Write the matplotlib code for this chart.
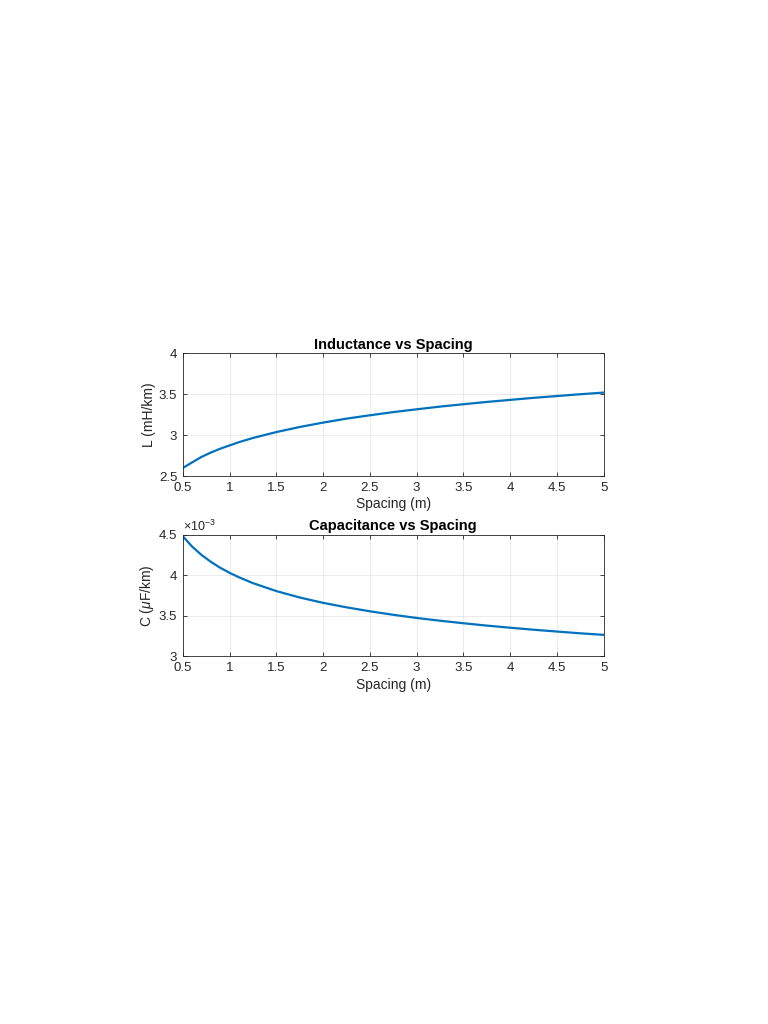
import matplotlib
matplotlib.use("Agg")
import matplotlib.pyplot as plt

plt.rcParams['font.family'] = ['Liberation Sans', 'DejaVu Sans']
plt.rcParams['mathtext.fontset'] = 'custom'
plt.rcParams['mathtext.rm'] = 'Liberation Sans'
plt.rcParams['mathtext.it'] = 'Liberation Sans:italic'

spacing = [0.5, 0.6, 0.7, 0.8, 0.9, 1.0, 1.1, 1.25, 1.5, 1.75, 2.0, 2.25, 2.5, 2.75,
           3.0, 3.25, 3.5, 3.75, 4.0, 4.25, 4.5, 4.75, 5.0]
inductance = [2.600, 2.668, 2.735, 2.788, 2.835, 2.875, 2.915, 2.966, 3.038, 3.100, 3.154,
              3.202, 3.243, 3.282, 3.316, 3.349, 3.378, 3.406, 3.431, 3.456, 3.478, 3.500, 3.520]
capacitance = [4.480e-3, 4.351e-3, 4.249e-3, 4.164e-3, 4.091e-3, 4.029e-3, 3.974e-3, 3.902e-3,
               3.804e-3, 3.725e-3, 3.659e-3, 3.604e-3, 3.555e-3, 3.512e-3, 3.473e-3, 3.439e-3,
               3.408e-3, 3.379e-3, 3.353e-3, 3.328e-3, 3.306e-3, 3.284e-3, 3.265e-3]

xticks = [0.5, 1, 1.5, 2, 2.5, 3, 3.5, 4, 4.5, 5]
xticklabels = ['0.5', '1', '1.5', '2', '2.5', '3', '3.5', '4', '4.5', '5']
L_ticks = [2.5, 3, 3.5, 4]
L_ticklabels = ['2.5', '3', '3.5', '4']
C_ticks = [3e-3, 3.5e-3, 4e-3, 4.5e-3]
C_ticklabels = ['3', '3.5', '4', '4.5']

line_color = '#0072BD'
text_color = '#262626'

fig = plt.figure(figsize=(7.68, 10.24), dpi=100)
ax1 = fig.add_axes([0.238, 0.535, 0.548, 0.120])
ax2 = fig.add_axes([0.238, 0.359, 0.548, 0.119])

def style(ax):
    ax.set_xlim(0.5, 5)
    ax.set_xticks(xticks)
    ax.set_xticklabels(xticklabels)
    ax.grid(True, color='#000000', alpha=0.09, linewidth=0.6)
    ax.tick_params(direction='in', length=3, width=0.6, colors=text_color,
                   labelsize=9.5, top=True, right=True, pad=4)
    for s in ax.spines.values():
        s.set_color(text_color)
        s.set_linewidth(0.6)
    ax.set_axisbelow(True)

ax1.plot(spacing, inductance, color=line_color, linewidth=1.6)
style(ax1)
ax1.set_ylim(2.5, 4)
ax1.set_yticks(L_ticks)
ax1.set_yticklabels(L_ticklabels)
ax1.set_xlabel('Spacing (m)', fontsize=10, color=text_color, labelpad=2.5)
ax1.set_ylabel('L (mH/km)', fontsize=10, color=text_color, labelpad=2)
ax1.set_title('Inductance vs Spacing', fontsize=10.5, fontweight='bold', pad=3)

ax2.plot(spacing, capacitance, color=line_color, linewidth=1.6)
style(ax2)
ax2.set_ylim(3e-3, 4.5e-3)
ax2.set_yticks(C_ticks)
ax2.set_yticklabels(C_ticklabels)
ax2.text(0.0, 1.005, r'$\times10^{-3}$', transform=ax2.transAxes, fontsize=9,
         color=text_color, ha='left', va='bottom')
ax2.set_xlabel('Spacing (m)', fontsize=10, color=text_color, labelpad=3)
ax2.set_ylabel(r'C ($\mu$F/km)', fontsize=10, color=text_color, labelpad=2)
ax2.set_title('Capacitance vs Spacing', fontsize=10.5, fontweight='bold', pad=3)

fig.savefig('out.png', dpi=100)
